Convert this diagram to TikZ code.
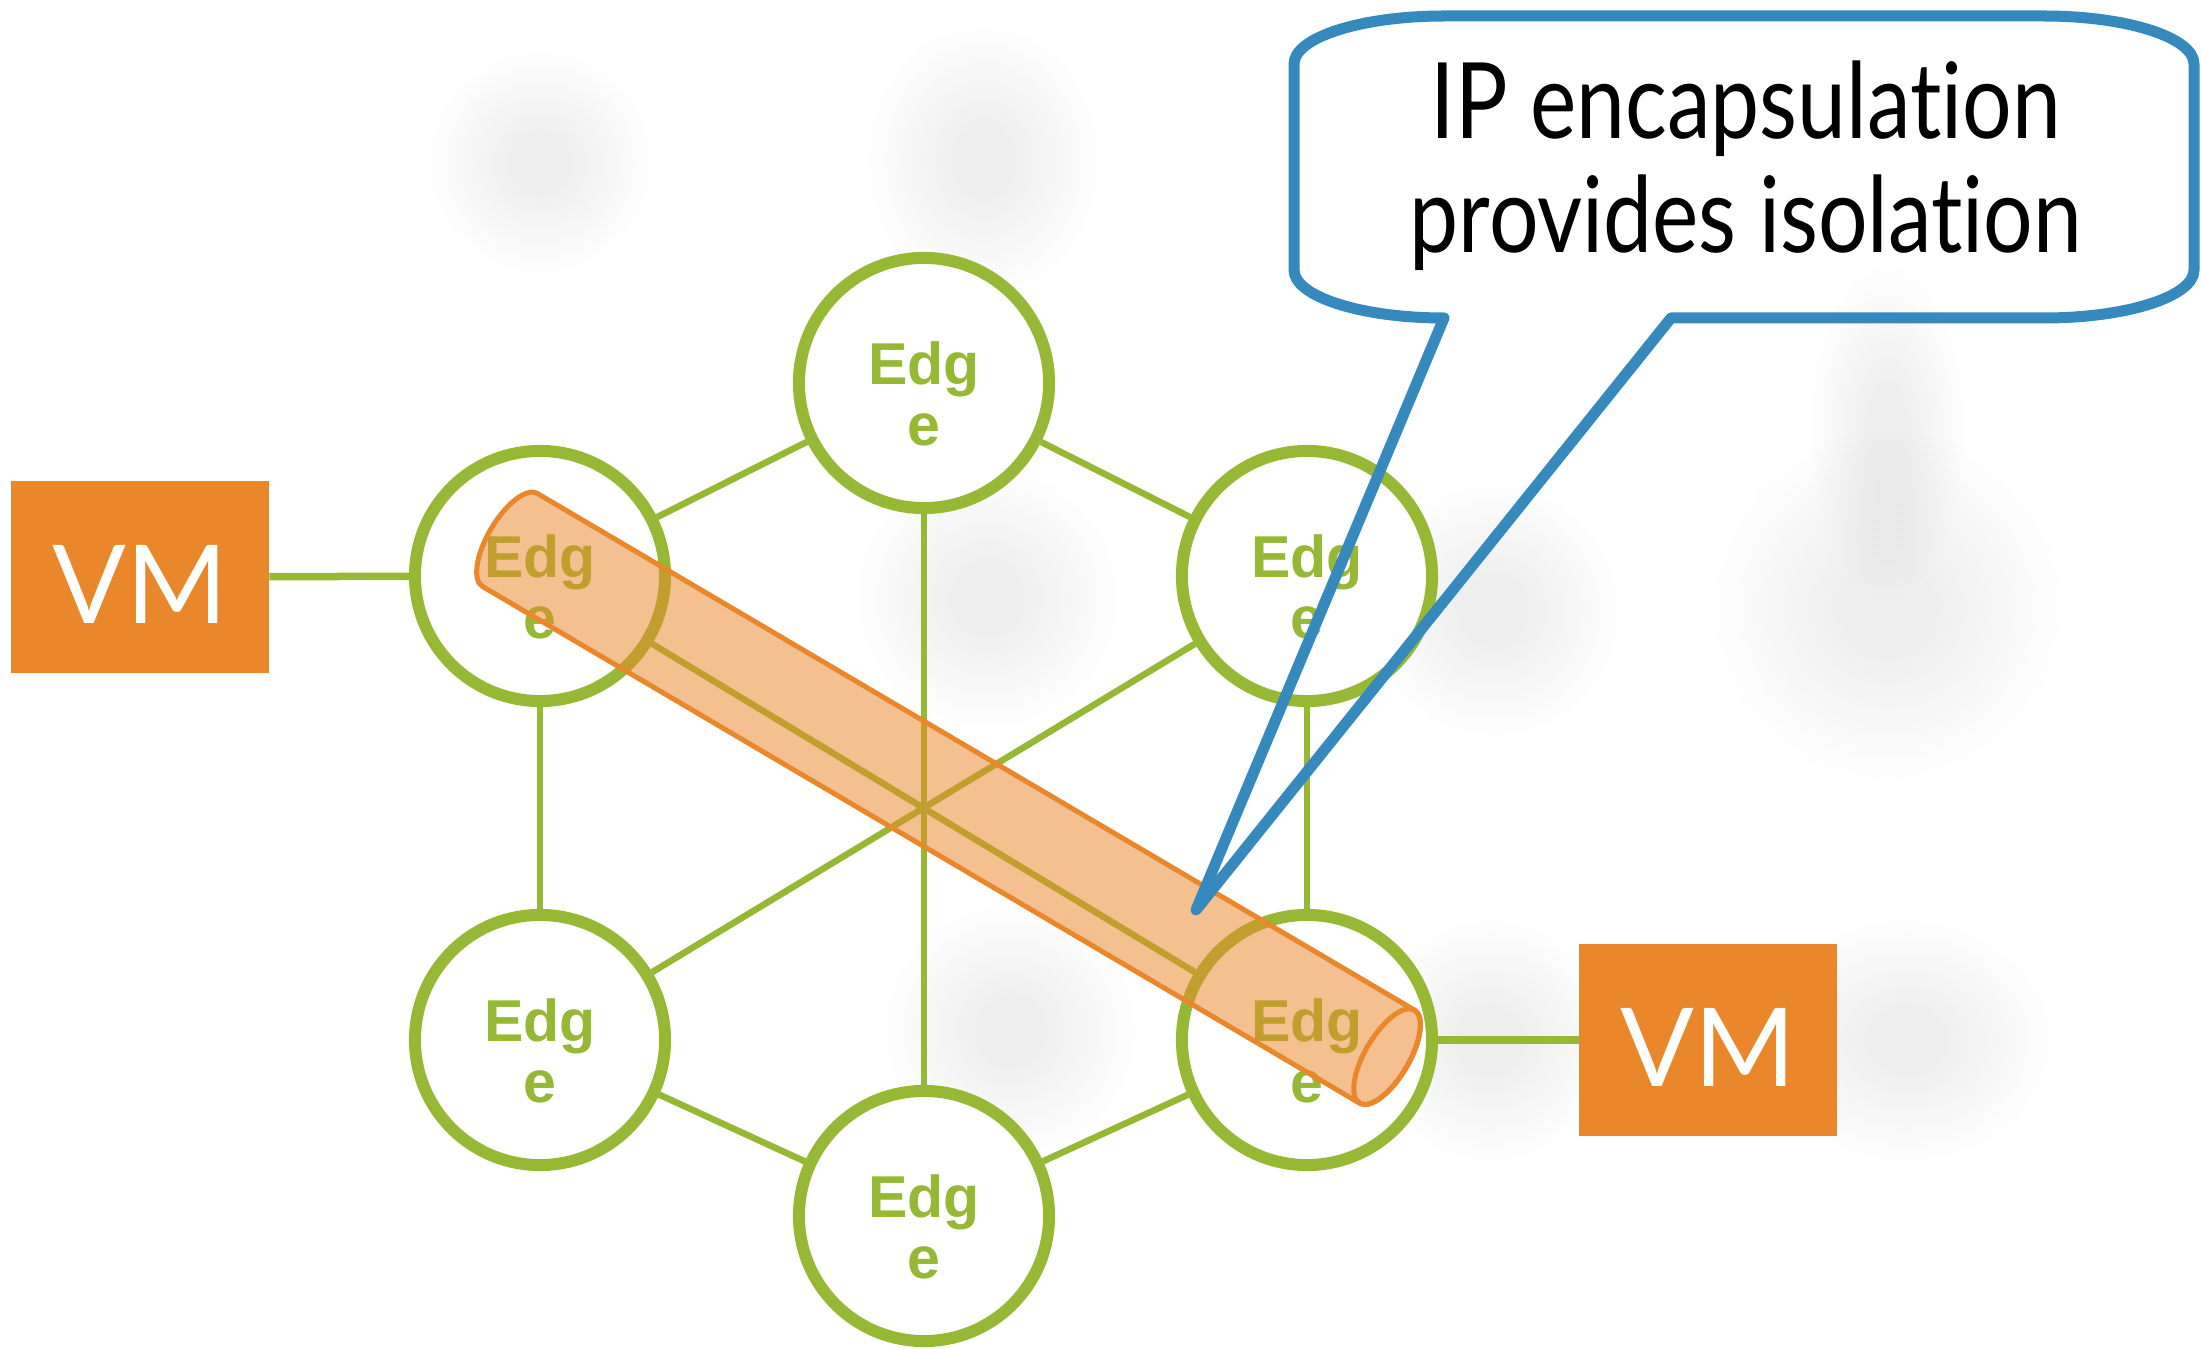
\documentclass[tikz,border=0pt]{standalone}
\usepackage{fontspec}
\newfontfamily\edgefont{Liberation Sans}
\newfontfamily\notefont[FakeStretch=0.83, Ligatures={NoCommon, NoContextual}]{Lato}
\newfontfamily\vmfont{Lato}
\definecolor{edgegreen}{RGB}{150,184,52}
\definecolor{vmorange}{RGB}{234,135,42}
\definecolor{calloutblue}{RGB}{54,137,189}
\definecolor{blobgray}{RGB}{238,238,238}
\pgfdeclareradialshading{blob}{\pgfpoint{0bp}{0bp}}{color(0bp)=(blobgray); color(6bp)=(blobgray); color(25bp)=(white); color(50bp)=(white)}

\begin{document}
\begin{tikzpicture}[x=0.01cm, y=-0.01cm,
    edgenode/.style={circle, draw=edgegreen, line width=0.12cm, fill=white, minimum size=2.5cm, inner sep=0pt, align=center, text=edgegreen, font=\edgefont\bfseries\fontsize{16.8}{17.4}\selectfont},
    vmbox/.style={rectangle, fill=vmorange, minimum width=2.57cm, minimum height=1.91cm, inner sep=0pt, text=white, text height=0.93cm, text depth=0pt, font=\vmfont\fontsize{31}{31}\selectfont},
    link/.style={draw=edgegreen, line width=0.065cm},
    vmlink/.style={draw=edgegreen, line width=0.075cm},
    tube/.style={fill=vmorange, fill opacity=0.52, draw=vmorange, line width=0.05cm, line join=round},
    bubble/.style={draw=calloutblue, line width=0.11cm, line join=round},
    note/.style={align=center, font=\notefont\fontsize{30}{32.4}\selectfont}]
    \useasboundingbox (0,0) rectangle (2202,1349);

    % faint shadows in the background
    \begin{scope}[blend mode=multiply]
        \shade[shading=blob] (540,162) circle (115);
        \shade[shading=blob] (983,160) ellipse [x radius=120, y radius=140];
        \shade[shading=blob] (987,597) circle (135);
        \shade[shading=blob] (1493,610) circle (130);
        \shade[shading=blob] (1887,430) ellipse [x radius=80, y radius=170];
        \shade[shading=blob] (1887,606) circle (180);
        \shade[shading=blob] (1010,1030) circle (130);
        \shade[shading=blob] (1490,1040) circle (125);
        \shade[shading=blob] (1906,1040) ellipse [x radius=150, y radius=125];
    \end{scope}

    \node[edgenode] (T) at (924,383) {\rule{0pt}{0.64cm}Edg\\e};
    \node[edgenode] (UL) at (540,576) {\rule{0pt}{0.64cm}Edg\\e};
    \node[edgenode] (UR) at (1307,576) {\rule{0pt}{0.64cm}Edg\\e};
    \node[edgenode] (LL) at (540,1040) {\rule{0pt}{0.64cm}Edg\\e};
    \node[edgenode] (LR) at (1307,1040) {\rule{0pt}{0.64cm}Edg\\e};
    \node[edgenode] (B) at (924,1216) {\rule{0pt}{0.64cm}Edg\\e};

    \node[vmbox] (VMa) at (140,577) {VM};
    \node[vmbox] (VMb) at (1708,1040) {VM};

    \draw[link] (T) -- (UL);
    \draw[link] (T) -- (UR);
    \draw[link] (T) -- (B);
    \draw[link] (UL) -- (LL);
    \draw[link] (UR) -- (LR);
    \draw[link] (LL) -- (B);
    \draw[link] (LR) -- (B);
    \draw[link] (UL) -- (LR);
    \draw[link] (UR) -- (LL);
    \draw[vmlink] (VMa) -- (UL);
    \draw[vmlink] (LR) -- (VMb);

    % tunnel
    \begin{scope}[shift={(510,540)}, rotate=-30.5]
        \filldraw[tube] (0,-54) -- (1018,-54)
            arc[start angle=-90, end angle=90, x radius=22, y radius=54] -- (0,54)
            arc[start angle=90, end angle=270, x radius=22, y radius=54] -- cycle;
        \draw[tube, fill=none] (1018,0) ellipse [x radius=22, y radius=54];
    \end{scope}

    % callout
    \coordinate (tip) at (1196,910);
    \draw[bubble] (1671,318) -- (2044,318)
        arc[start angle=90, end angle=0, x radius=150, y radius=48] -- (2194,64)
        arc[start angle=0, end angle=-90, x radius=150, y radius=48] -- (1444,16)
        arc[start angle=-90, end angle=-180, x radius=150, y radius=48] -- (1294,270)
        arc[start angle=180, end angle=90, x radius=150, y radius=48] -- (tip) -- cycle;
    \node[note] (msg) at (1746,166) {IP encapsulation\\provides isolation};
\end{tikzpicture}
\end{document}
